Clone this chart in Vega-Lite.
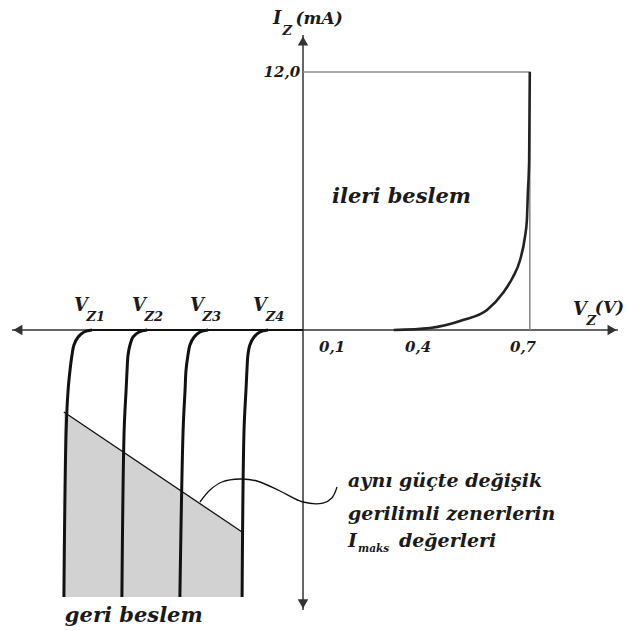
{
  "$schema": "https://vega.github.io/schema/vega-lite/v6.json",
  "width": 627,
  "height": 631,
  "autosize": {"type": "none"},
  "padding": 0,
  "background": "white",
  "config": {"view": {"stroke": null}},
  "encoding": {
    "x": {"field": "x", "type": "quantitative", "axis": null, "scale": {"domain": [-0.9352, 1.0], "nice": false, "zero": false}},
    "y": {"field": "y", "type": "quantitative", "axis": null, "scale": {"domain": [-14.0, 15.35], "nice": false, "zero": false}}
  },
  "layer": [
    {
      "data": {"values": [
        {"x": -0.738, "y": -3.814, "y2": -12.42},
        {"x": -0.188, "y": -9.395, "y2": -12.42}
      ]},
      "layer": [
        {"mark": {"type": "area", "color": "#d2d2d2", "opacity": 1}, "encoding": {"y2": {"field": "y2"}}},
        {"mark": {"type": "line", "color": "#111", "strokeWidth": 1.3}, "encoding": {}}
      ]
    },
    {
      "data": {"values": [
        {"g": "h", "o": 1, "x": -0.898, "y": 0},
        {"g": "h", "o": 2, "x": 0.972, "y": 0},
        {"g": "v", "o": 1, "x": 0, "y": 13.72},
        {"g": "v", "o": 2, "x": 0, "y": -13.02}
      ]},
      "mark": {"type": "line", "color": "#333", "strokeWidth": 1.5},
      "encoding": {"detail": {"field": "g"}, "order": {"field": "o"}}
    },
    {
      "data": {"values": [
        {"end": "right", "x": 0.954, "y": 0},
        {"end": "left", "x": -0.880, "y": 0},
        {"end": "top", "x": 0, "y": 13.44},
        {"end": "bottom", "x": 0, "y": -12.74}
      ]},
      "mark": {"type": "point", "filled": true, "color": "#333", "size": 110, "opacity": 1},
      "encoding": {"shape": {"field": "end", "type": "nominal", "legend": null, "scale": {"domain": ["right", "left", "top", "bottom"], "range": ["triangle-right", "triangle-left", "triangle-up", "triangle-down"]}}}
    },
    {
      "data": {"values": [
        {"o": 1, "x": 0, "y": 12},
        {"o": 2, "x": 0.70, "y": 12},
        {"o": 3, "x": 0.70, "y": 0}
      ]},
      "mark": {"type": "line", "color": "#8a8a8a", "strokeWidth": 1.6},
      "encoding": {"order": {"field": "o"}}
    },
    {
      "data": {"values": [
        {"o": 1, "x": -0.651, "y": 0},
        {"o": 2, "x": 0, "y": 0}
      ]},
      "mark": {"type": "line", "color": "#111", "strokeWidth": 2.2},
      "encoding": {"order": {"field": "o"}}
    },
    {
      "data": {"values": [
        {"o": 1, "x": 0.28, "y": 0},
        {"o": 2, "x": 0.392, "y": 0.093},
        {"o": 3, "x": 0.494, "y": 0.465},
        {"o": 4, "x": 0.568, "y": 0.930},
        {"o": 5, "x": 0.617, "y": 1.721},
        {"o": 6, "x": 0.648, "y": 2.465},
        {"o": 7, "x": 0.670, "y": 3.256},
        {"o": 8, "x": 0.685, "y": 4.326},
        {"o": 9, "x": 0.691, "y": 5.116},
        {"o": 10, "x": 0.694, "y": 6.372},
        {"o": 11, "x": 0.698, "y": 7.907},
        {"o": 12, "x": 0.700, "y": 12}
      ]},
      "mark": {"type": "line", "color": "#222", "strokeWidth": 2.6, "interpolate": "monotone"},
      "encoding": {"order": {"field": "o"}}
    },
    {
      "data": {"values": [
        {"g": "Vz1", "o": 1, "x": -0.651, "y": 0},
        {"g": "Vz1", "o": 2, "x": -0.676, "y": -0.093},
        {"g": "Vz1", "o": 3, "x": -0.694, "y": -0.326},
        {"g": "Vz1", "o": 4, "x": -0.707, "y": -0.698},
        {"g": "Vz1", "o": 5, "x": -0.713, "y": -1.163},
        {"g": "Vz1", "o": 6, "x": -0.719, "y": -1.860},
        {"g": "Vz1", "o": 7, "x": -0.725, "y": -2.791},
        {"g": "Vz1", "o": 8, "x": -0.731, "y": -4.651},
        {"g": "Vz1", "o": 9, "x": -0.738, "y": -12.42},
        {"g": "Vz2", "o": 1, "x": -0.481, "y": 0},
        {"g": "Vz2", "o": 2, "x": -0.506, "y": -0.093},
        {"g": "Vz2", "o": 3, "x": -0.525, "y": -0.326},
        {"g": "Vz2", "o": 4, "x": -0.534, "y": -0.698},
        {"g": "Vz2", "o": 5, "x": -0.540, "y": -1.163},
        {"g": "Vz2", "o": 6, "x": -0.543, "y": -1.860},
        {"g": "Vz2", "o": 7, "x": -0.546, "y": -2.791},
        {"g": "Vz2", "o": 8, "x": -0.552, "y": -4.651},
        {"g": "Vz2", "o": 9, "x": -0.559, "y": -12.42},
        {"g": "Vz3", "o": 1, "x": -0.293, "y": 0},
        {"g": "Vz3", "o": 2, "x": -0.318, "y": -0.093},
        {"g": "Vz3", "o": 3, "x": -0.336, "y": -0.326},
        {"g": "Vz3", "o": 4, "x": -0.349, "y": -0.698},
        {"g": "Vz3", "o": 5, "x": -0.355, "y": -1.163},
        {"g": "Vz3", "o": 6, "x": -0.361, "y": -1.860},
        {"g": "Vz3", "o": 7, "x": -0.364, "y": -2.791},
        {"g": "Vz3", "o": 8, "x": -0.370, "y": -4.651},
        {"g": "Vz3", "o": 9, "x": -0.380, "y": -12.42},
        {"g": "Vz4", "o": 1, "x": -0.108, "y": 0},
        {"g": "Vz4", "o": 2, "x": -0.133, "y": -0.093},
        {"g": "Vz4", "o": 3, "x": -0.151, "y": -0.326},
        {"g": "Vz4", "o": 4, "x": -0.164, "y": -0.698},
        {"g": "Vz4", "o": 5, "x": -0.170, "y": -1.163},
        {"g": "Vz4", "o": 6, "x": -0.173, "y": -1.860},
        {"g": "Vz4", "o": 7, "x": -0.176, "y": -2.791},
        {"g": "Vz4", "o": 8, "x": -0.182, "y": -4.651},
        {"g": "Vz4", "o": 9, "x": -0.188, "y": -12.42}
      ]},
      "mark": {"type": "line", "color": "#111", "strokeWidth": 3, "interpolate": "catmull-rom"},
      "encoding": {"detail": {"field": "g"}, "order": {"field": "o"}}
    },
    {
      "data": {"values": [
        {"o": 1, "x": -0.318, "y": -8.0},
        {"o": 2, "x": -0.287, "y": -7.442},
        {"o": 3, "x": -0.250, "y": -7.070},
        {"o": 4, "x": -0.194, "y": -6.930},
        {"o": 5, "x": -0.142, "y": -7.023},
        {"o": 6, "x": -0.071, "y": -7.488},
        {"o": 7, "x": 0.0, "y": -8.0},
        {"o": 8, "x": 0.062, "y": -8.047},
        {"o": 9, "x": 0.089, "y": -7.814},
        {"o": 10, "x": 0.105, "y": -7.302}
      ]},
      "mark": {"type": "line", "color": "#111", "strokeWidth": 1.3, "interpolate": "catmull-rom"},
      "encoding": {"order": {"field": "o"}}
    },
    {
      "data": {"values": [
        {"x": 0.0895, "y": 5.907, "t": "ileri beslem"},
        {"x": -0.735, "y": -13.58, "t": "geri beslem"}
      ]},
      "mark": {"type": "text", "align": "left", "baseline": "alphabetic", "font": "DejaVu Serif", "fontStyle": "italic", "fontWeight": "bold", "fontSize": 21, "color": "#1a1a1a"},
      "encoding": {"text": {"field": "t"}}
    },
    {
      "data": {"values": [
        {"x": 0.139, "y": -7.30, "t": "aynı güçte değişik"},
        {"x": 0.139, "y": -8.837, "t": "gerilimli zenerlerin"},
        {"x": 0.139, "y": -10.09, "t": "I"},
        {"x": 0.296, "y": -10.09, "t": "değerleri"}
      ]},
      "mark": {"type": "text", "align": "left", "baseline": "alphabetic", "font": "DejaVu Serif", "fontStyle": "italic", "fontWeight": "bold", "fontSize": 19, "color": "#1a1a1a"},
      "encoding": {"text": {"field": "t"}}
    },
    {
      "data": {"values": [
        {"x": 0.170, "y": -10.33, "t": "maks"}
      ]},
      "mark": {"type": "text", "align": "left", "baseline": "alphabetic", "font": "DejaVu Serif", "fontStyle": "italic", "fontWeight": "bold", "fontSize": 10.5, "color": "#1a1a1a"},
      "encoding": {"text": {"field": "t"}}
    },
    {
      "data": {"values": [
        {"x": -0.685, "y": 1.116, "t": "V"},
        {"x": -0.506, "y": 1.116, "t": "V"},
        {"x": -0.327, "y": 1.116, "t": "V"},
        {"x": -0.133, "y": 1.116, "t": "V"},
        {"x": 0.855, "y": 0.930, "t": "V"},
        {"x": -0.080, "y": 14.47, "t": "I"}
      ]},
      "mark": {"type": "text", "align": "center", "baseline": "middle", "font": "DejaVu Serif", "fontStyle": "italic", "fontWeight": "bold", "fontSize": 18, "color": "#1a1a1a"},
      "encoding": {"text": {"field": "t"}}
    },
    {
      "data": {"values": [
        {"x": -0.668, "y": 0.62, "t": "Z1"},
        {"x": -0.489, "y": 0.62, "t": "Z2"},
        {"x": -0.310, "y": 0.62, "t": "Z3"},
        {"x": -0.115, "y": 0.62, "t": "Z4"},
        {"x": 0.875, "y": 0.44, "t": "Z"},
        {"x": -0.063, "y": 13.91, "t": "Z"}
      ]},
      "mark": {"type": "text", "align": "left", "baseline": "middle", "font": "DejaVu Serif", "fontStyle": "italic", "fontWeight": "bold", "fontSize": 13, "color": "#1a1a1a"},
      "encoding": {"text": {"field": "t"}}
    },
    {
      "data": {"values": [
        {"x": 0.946, "y": 1.023, "t": "(V)"},
        {"x": 0.050, "y": 14.47, "t": "(mA)"}
      ]},
      "mark": {"type": "text", "align": "center", "baseline": "middle", "font": "DejaVu Serif", "fontStyle": "italic", "fontWeight": "bold", "fontSize": 17, "color": "#1a1a1a"},
      "encoding": {"text": {"field": "t"}}
    },
    {
      "data": {"values": [
        {"x": 0.09, "y": -0.79, "t": "0,1"},
        {"x": 0.355, "y": -0.79, "t": "0,4"},
        {"x": 0.679, "y": -0.79, "t": "0,7"}
      ]},
      "mark": {"type": "text", "align": "center", "baseline": "middle", "font": "DejaVu Serif", "fontStyle": "italic", "fontWeight": "bold", "fontSize": 15, "color": "#1a1a1a"},
      "encoding": {"text": {"field": "t"}}
    },
    {
      "data": {"values": [
        {"x": -0.009, "y": 12, "t": "12,0"}
      ]},
      "mark": {"type": "text", "align": "right", "baseline": "middle", "font": "DejaVu Serif", "fontStyle": "italic", "fontWeight": "bold", "fontSize": 15, "color": "#1a1a1a"},
      "encoding": {"text": {"field": "t"}}
    }
  ]
}
